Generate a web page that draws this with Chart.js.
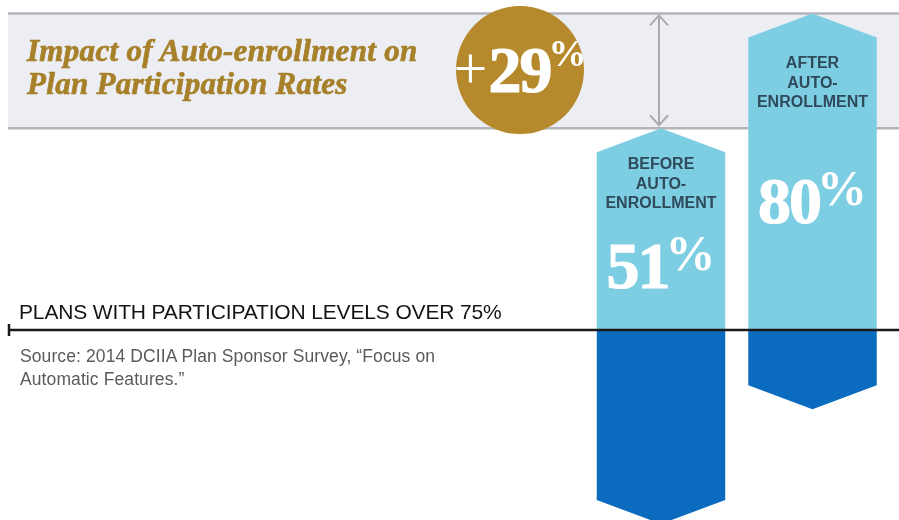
<!DOCTYPE html>
<html>
<head>
<meta charset="utf-8">
<script src="https://cdn.jsdelivr.net/npm/chart.js@4/dist/chart.umd.min.js"></script>
<style>
  html, body { margin:0; padding:0; background:#ffffff; }
  #wrap { position:relative; width:899px; height:520px; overflow:hidden; }
  #chart { position:absolute; left:0; top:0; }
  .t { position:absolute; white-space:nowrap; }
  #title { left:27px; top:35px; font:italic bold 31px "Liberation Serif", serif; color:#a7812a; line-height:32.5px; letter-spacing:0.3px; -webkit-text-stroke:0.7px #a7812a; }
  #circle { position:absolute; left:456px; top:6px; width:128px; height:128px; border-radius:50%; background:#b68a2c;
            display:flex; align-items:center; justify-content:center; color:#fff; }
  .num { display:flex; align-items:flex-start; color:#ffffff; line-height:1; }
  .num .d { font:bold 66px "Liberation Serif", serif; letter-spacing:-2px; -webkit-text-stroke:1.2px #ffffff; }
  .num .p { font:bold 50px "Liberation Serif", serif; margin-top:-4px; margin-left:-3px; }
  #circle .num .p { font-size:38px; margin-top:-1px; margin-left:-2px; }
  .num .plus { font:normal 60px "Liberation Serif", serif; margin-top:2px; margin-right:1px; }
  .lbl { font:bold 16px "Liberation Sans", Arial, sans-serif; color:#2f4a5a; line-height:19.5px; text-align:center; transform:translateX(-50%); }
  #axisLabel { left:19px; top:300px; font:normal 21px "Liberation Sans", Arial, sans-serif; color:#141414; letter-spacing:-0.15px; }
  #source { left:20px; top:345px; font:normal 17.5px "Liberation Sans", Arial, sans-serif; color:#5a5a5a; line-height:22.5px; letter-spacing:0.1px; }
</style>
</head>
<body>
<div id="wrap">
  <canvas id="chart" width="899" height="520"></canvas>
  <div id="title" class="t"></div>
  <div id="circle"></div>
  <div id="axisLabel" class="t"></div>
  <div id="source" class="t"></div>
</div>
<script>
// ---- data ----
const categories = ['BEFORE AUTO-ENROLLMENT', 'AFTER AUTO-ENROLLMENT'];
const labelLines = [['BEFORE', 'AUTO-', 'ENROLLMENT'], ['AFTER', 'AUTO-', 'ENROLLMENT']];
const participation = [51, 80];      // % of plans with participation over 75% (light blue, above the line)
const remainder = [-49, -20];        // rest of plans (dark blue, below the line)
const titleLines = ['Impact of Auto-enrollment on', 'Plan Participation Rates'];
const axisText = 'PLANS WITH PARTICIPATION LEVELS OVER 75%';
const sourceLines = ['Source: 2014 DCIIA Plan Sponsor Survey, \u201CFocus on', 'Automatic Features.\u201D'];

const lightBlue = '#7ecee3';
const darkBlue = '#0a6bbf';

document.getElementById('title').innerHTML = titleLines.join('<br>');
document.getElementById('axisLabel').textContent = axisText;
document.getElementById('source').innerHTML = sourceLines.join('<br>');
const diff = participation[1] - participation[0];
document.getElementById('circle').innerHTML =
  '<div class="num"><span class="plus">+</span><span class="d">' + diff + '</span><span class="p">%</span></div>';

const TIP = 24;

const arrowBars = {
  id: 'arrowBars',
  beforeDatasetsDraw(chart) {
    const { ctx } = chart;
    const y = chart.scales.y;
    const yTop = y.getPixelForValue(Math.max(...participation));
    const yBot = y.getPixelForValue(Math.min(...participation));
    ctx.save();
    ctx.fillStyle = '#eceef3';
    ctx.fillRect(8, yTop, chart.width - 8, yBot - yTop);
    ctx.strokeStyle = '#b3b5b9';
    ctx.lineWidth = 2.5;
    ctx.beginPath();
    ctx.moveTo(8, yTop); ctx.lineTo(chart.width, yTop);
    ctx.moveTo(8, yBot); ctx.lineTo(chart.width, yBot);
    ctx.stroke();
    ctx.restore();
  },
  afterDatasetsDraw(chart) {
    const { ctx } = chart;
    ctx.save();
    chart.data.datasets.forEach((ds, i) => {
      const meta = chart.getDatasetMeta(i);
      meta.data.forEach(el => {
        const p = el.getProps(['x', 'y', 'base', 'width'], true);
        const dir = p.y < p.base ? 1 : -1; // 1 = pointing up
        const l = p.x - p.width / 2, r = p.x + p.width / 2;
        ctx.fillStyle = ds.arrowColor;
        ctx.beginPath();
        ctx.moveTo(l, p.base);
        ctx.lineTo(l, p.y + dir * TIP);
        ctx.lineTo(p.x, p.y);
        ctx.lineTo(r, p.y + dir * TIP);
        ctx.lineTo(r, p.base);
        ctx.closePath();
        ctx.fill();
      });
    });
    // baseline
    const y0 = chart.scales.y.getPixelForValue(0);
    ctx.strokeStyle = '#1a1a1a';
    ctx.lineWidth = 2.5;
    ctx.beginPath();
    ctx.moveTo(8, y0); ctx.lineTo(chart.width, y0);
    ctx.moveTo(9, y0 - 6); ctx.lineTo(9, y0 + 6);
    ctx.stroke();
    // double arrow showing the gain
    const first = chart.getDatasetMeta(0).data[0];
    const ax = first.x - 2;
    const ya = chart.scales.y.getPixelForValue(participation[1]) + 2;
    const yb = chart.scales.y.getPixelForValue(participation[0]) - 3;
    ctx.strokeStyle = '#a9abb1';
    ctx.lineWidth = 2;
    ctx.beginPath();
    ctx.moveTo(ax, ya); ctx.lineTo(ax, yb);
    ctx.moveTo(ax - 9, ya + 10); ctx.lineTo(ax, ya); ctx.lineTo(ax + 9, ya + 10);
    ctx.moveTo(ax - 9, yb - 10); ctx.lineTo(ax, yb); ctx.lineTo(ax + 9, yb - 10);
    ctx.stroke();
    ctx.restore();
  }
};

const chart = new Chart(document.getElementById('chart'), {
  type: 'bar',
  data: {
    labels: categories,
    datasets: [
      { label: 'Participation over 75%', data: participation, backgroundColor: 'rgba(0,0,0,0)', arrowColor: lightBlue, stack: 's' },
      { label: 'Remaining plans', data: remainder, backgroundColor: 'rgba(0,0,0,0)', arrowColor: darkBlue, stack: 's' }
    ]
  },
  options: {
    responsive: false,
    animation: false,
    events: [],
    layout: { padding: { left: 585.25, right: 10.75, top: 0, bottom: 0 } },
    plugins: { legend: { display: false }, tooltip: { enabled: false } },
    datasets: { bar: { categoryPercentage: 1, barPercentage: 0.848 } },
    scales: {
      x: { display: false, stacked: true, offset: true },
      y: { display: false, stacked: true, min: -48.0, max: 83.4 }
    }
  },
  plugins: [arrowBars]
});

// labels and values inside the arrows, placed from the bar elements
const wrap = document.getElementById('wrap');
const labelTops = [154, 53];
const valueTops = [228, 163];
chart.getDatasetMeta(0).data.forEach((el, i) => {
  const lab = document.createElement('div');
  lab.className = 't lbl';
  lab.style.left = el.x + 'px';
  lab.style.top = labelTops[i] + 'px';
  lab.innerHTML = labelLines[i].join('<br>');
  wrap.appendChild(lab);
  const v = document.createElement('div');
  v.className = 't num';
  v.style.left = el.x + 'px';
  v.style.top = valueTops[i] + 'px';
  v.style.transform = 'translateX(-50%)';
  v.innerHTML = '<span class="d">' + participation[i] + '</span><span class="p">%</span>';
  wrap.appendChild(v);
});
</script>
</body>
</html>
